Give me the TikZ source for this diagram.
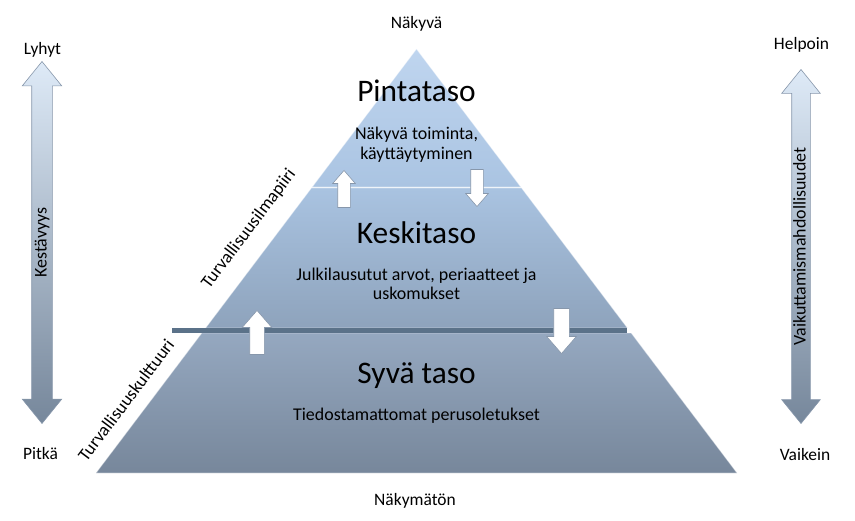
\documentclass[tikz,border=0pt]{standalone}
\usepackage{fontspec}
\setmainfont{Carlito}
\usetikzlibrary{positioning,calc,shapes.arrows}

\definecolor{pyrA}{HTML}{BFD5EF}
\definecolor{pyrB}{HTML}{AAC4E2}
\definecolor{pyrC}{HTML}{A9C3E1}
\definecolor{pyrD}{HTML}{8EA3BC}
\definecolor{pyrE}{HTML}{95A8C0}
\definecolor{pyrF}{HTML}{77879B}
\definecolor{divcol}{HTML}{5B7289}
\definecolor{edgecol}{HTML}{8797AB}
\definecolor{sidelight}{HTML}{DEEAF7}
\definecolor{sidedark}{HTML}{76879B}

\begin{document}
\begin{tikzpicture}[x=1bp,y=-1bp,
		% Tekstit
		endlabel/.style={font=\fontsize{17.5}{20}\selectfont, anchor=base},
		title/.style={font=\fontsize{31.5}{36}\selectfont, anchor=base},
		body/.style={font=\fontsize{18}{20}\selectfont, anchor=base},
		edgelabel/.style={font=\fontsize{18}{20}\selectfont, rotate=53},
		% Tasot
		level/.style={draw=white, draw opacity=0.45, line width=0.8bp},
		% Sivunuolet (kaksipäinen)
		sidearrow/.style={
			double arrow, rotate=90, draw=edgecol, line width=0.6bp,
			top color=sidelight, bottom color=sidedark,
			double arrow head extend=9.5bp, double arrow tip angle=78,
			inner xsep=0pt, inner ysep=1.5bp, text height=13bp, text depth=4bp,
			font=\fontsize{18}{20}\selectfont
		},
		% Pienet valkoiset nuolet
		flowarrow/.style={
			single arrow, draw=edgecol, fill=white, line width=0.6bp,
			inner sep=0pt, text depth=0pt, single arrow tip angle=82, anchor=tip
		}
	]
	\useasboundingbox (0,0) rectangle (855,521);
	
	% --- PYRAMIDI ---
	\coordinate (apex) at (416.5,49);
	\coordinate (bl) at (96,473);
	\coordinate (br) at (737,473);
	
	% Pintataso
	\shade[level, top color=pyrA, bottom color=pyrB]
	(apex) -- ($(apex)!0.3255!(br)$) -- ($(apex)!0.3255!(bl)$) -- cycle;
	% Keskitaso
	\shade[level, top color=pyrC, bottom color=pyrD]
	($(apex)!0.3278!(bl)$) -- ($(apex)!0.3278!(br)$) -- ($(apex)!0.658!(br)$) -- ($(apex)!0.658!(bl)$) -- cycle;
	% Syvä taso
	\shade[level, top color=pyrE, bottom color=pyrF]
	($(apex)!0.67!(bl)$) -- ($(apex)!0.67!(br)$) -- (br) -- (bl) -- cycle;
	
	% Raja turvallisuuskulttuurin ja -ilmapiirin välillä
	\coordinate (div-l) at (172,330.5);
	\coordinate (div-r) at (627,330.5);
	\draw[divcol, line width=4.5bp] (div-l) -- (div-r);
	
	% --- TASOJEN TEKSTIT ---
	\node[title] (pinta) at (416.5,102) {Pintataso};
	\node[body] (pinta-1) at (416.5,140) {Näkyvä toiminta,};
	\node[body] (pinta-2) at (416.5,160) {käyttäytyminen};
	
	\node[title] (keski) at (416.5,243.5) {Keskitaso};
	\node[body] (keski-1) at (416.5,281) {Julkilausutut arvot, periaatteet ja};
	\node[body] (keski-2) at (416.5,300) {uskomukset};
	
	\node[title] (syva) at (416.5,383) {Syvä taso};
	\node[body] (syva-1) at (416.5,420) {Tiedostamattomat perusoletukset};
	
	\node[endlabel] (nakyva) at (416.5,29) {Näkyvä};
	\node[endlabel] (nakymaton) at (415,505) {Näkymätön};
	
	% --- NUOLET TASOJEN VÄLILLÄ ---
	\node[flowarrow, rotate=90, minimum height=37bp, text height=12bp, single arrow head extend=5bp] (up-1) at (344,170) {};
	\node[flowarrow, rotate=-90, minimum height=37bp, text height=12bp, single arrow head extend=5bp] (down-1) at (477,207) {};
	\node[flowarrow, rotate=90, minimum height=44bp, text height=14bp, single arrow head extend=7.5bp] (up-2) at (257,310) {};
	\node[flowarrow, rotate=-90, minimum height=45bp, text height=15bp, single arrow head extend=7bp] (down-2) at (561.5,354) {};
	
	% --- REUNATEKSTIT ---
	\node[edgelabel] (ilmapiiri) at (249,229) {Turvallisuusilmapiiri};
	\node[edgelabel] (kulttuuri) at (126,400) {Turvallisuuskulttuuri};
	
	% --- SIVUNUOLET ---
	\node[sidearrow, minimum height=362bp] (kestavyys) at (42,242.5) {Kestävyys};
	\node[endlabel] (lyhyt) at (42.5,55) {Lyhyt};
	\node[endlabel] (pitka) at (40.5,459) {Pitkä};
	
	\node[sidearrow, minimum height=354bp, inner ysep=0.5bp, double arrow head extend=10bp] (vaikutus) at (801,246.5) {Vaikuttamismahdollisuudet};
	\node[endlabel] (helpoin) at (801.5,50) {Helpoin};
	\node[endlabel] (vaikein) at (805,460) {Vaikein};
	
\end{tikzpicture}
\end{document}
